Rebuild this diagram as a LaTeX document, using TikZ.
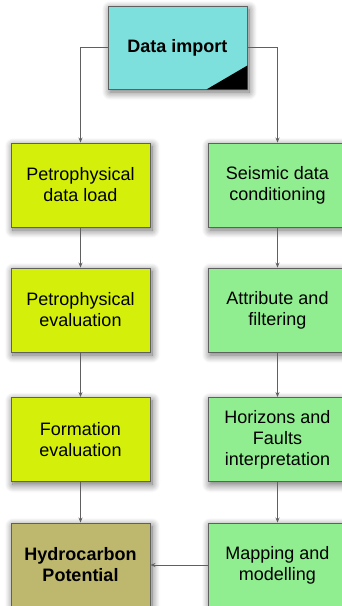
\documentclass[tikz,border=0pt]{standalone}
\usepackage{fontspec}
\setmainfont{Liberation Sans}
\usetikzlibrary{shadows.blur,arrows.meta}

\definecolor{importcol}{RGB}{125,224,220}
\definecolor{petrocol}{RGB}{212,240,10}
\definecolor{seiscol}{RGB}{144,238,144}
\definecolor{hccol}{RGB}{190,184,110}
\definecolor{edgecol}{RGB}{96,96,96}
\definecolor{shadecol}{RGB}{165,140,180}

\tikzset{
  stepbox/.style={draw=edgecol,line width=0.9pt,minimum width=139pt,
    minimum height=84pt,inner sep=0pt,align=center,
    font=\fontsize{18}{21}\selectfont,
    blur shadow={shadow xshift=2pt,shadow yshift=-3pt,
      shadow blur radius=8pt,shadow opacity=60,shadow blur steps=10,
      every shadow/.style={fill=shadecol}}},
  flow/.style={draw=edgecol,line width=0.8pt,
    -{Stealth[length=5pt,width=4pt]}}
}

\begin{document}
\begin{tikzpicture}[x=1pt,y=1pt]

\useasboundingbox (0,0) rectangle (341,-606);

% import
\node[stepbox,fill=importcol,minimum height=83pt,font=\fontsize{18}{21}\selectfont\bfseries]
  (imp) at (177.5,-47.5) {Data import};

\fill (imp.south east) -- ++(-41,0) -- ++(41,24) -- cycle;

% petrophysical branch
\node[stepbox,fill=petrocol] (pet1) at (80.5,-185) {Petrophysical\\data load};

\node[stepbox,fill=petrocol] (pet2) at (80.5,-310) {Petrophysical\\evaluation};

\node[stepbox,fill=petrocol] (pet3) at (80.5,-439.5) {Formation\\evaluation};

\node[stepbox,fill=hccol,font=\fontsize{18}{21}\selectfont\bfseries]
  (hc) at (80.5,-565) {Hydrocarbon\\Potential};

% seismic branch
\node[stepbox,fill=seiscol] (seis1) at (277.5,-185) {Seismic data\\conditioning};

\node[stepbox,fill=seiscol] (seis2) at (277.5,-310) {Attribute and\\filtering};

\node[stepbox,fill=seiscol] (seis3) at (277.5,-439.5) {Horizons and\\Faults\\interpretation};

\node[stepbox,fill=seiscol] (seis4) at (277.5,-565) {Mapping and\\modelling};

% connectors
\draw[flow] (imp.west) -| (pet1.north);

\draw[flow] (imp.east) -| (seis1.north);

\draw[flow] (pet1) -- (pet2);

\draw[flow] (pet2) -- (pet3);

\draw[flow] (pet3) -- (hc);

\draw[flow] (seis1) -- (seis2);

\draw[flow] (seis2) -- (seis3);

\draw[flow] (seis3) -- (seis4);

\draw[flow] (seis4) -- (hc);

\end{tikzpicture}
\end{document}
